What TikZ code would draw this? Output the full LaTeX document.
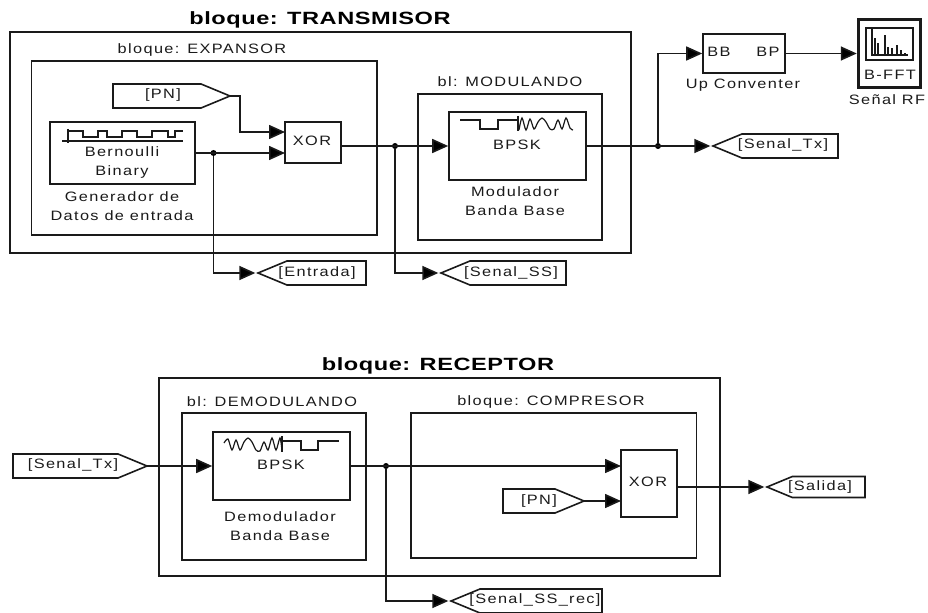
\documentclass[tikz,border=0pt]{standalone}
\usepackage{fontspec}
\setmainfont{Liberation Sans}
\newfontfamily\simfont[FakeStretch=1.2,LetterSpace=10]{Liberation Sans}
\newfontfamily\simbold[FakeStretch=1.33,LetterSpace=3]{Liberation Sans Bold}
\usetikzlibrary{arrows.meta,shapes.symbols,calc}
\definecolor{ink}{HTML}{1A1A1A}
\tikzset{
  frame/.style={draw=ink,line width=1.2pt,fill=none,inner sep=0pt,rectangle},
  wire/.style={draw=ink,line width=1.2pt,-{Triangle[length=12pt,width=10.5pt,fill=black]}},
  wireg/.style={wire,shorten >=2pt},
  icon/.style={draw=ink,line width=.9pt},
  dot/.style={circle,fill=black,inner sep=0pt,minimum size=4.5pt},
  txt/.style={font=\simfont\fontsize{10.2pt}{14.25pt}\selectfont,text=ink,inner sep=0pt,align=center},
  title/.style={font=\simbold\fontsize{13.3pt}{15pt}\selectfont,text=black,inner sep=0pt},
  gotor/.style={draw=ink,line width=1.2pt,inner sep=0pt,outer sep=0pt,signal,signal to=east,signal pointer angle=45,anchor=east},
  gotol/.style={draw=ink,line width=1.2pt,inner sep=0pt,outer sep=0pt,signal,signal to=west,signal pointer angle=45,anchor=west}
}
\begin{document}
\begin{tikzpicture}[x=.75pt,y=-.75pt]
\useasboundingbox (0,0) rectangle (928,613);
% ---------- transmitter frames
\node[frame,minimum width=621*.75pt,minimum height=221*.75pt] (tx) at (320.5,142.5) {};
\node[frame,minimum width=345.5*.75pt,minimum height=174*.75pt] (exp) at (204.25,148) {};
\node[frame,minimum width=184*.75pt,minimum height=146*.75pt] (mod) at (510,167) {};
\node[title] (ttx) at (320,20) {bloque: TRANSMISOR};
\node[txt] (texp) at (202,50) {bloque: EXPANSOR};
\node[txt] (tmod) at (510,82) {bl: MODULANDO};
% blocks
\node[frame,minimum width=145*.75pt,minimum height=62*.75pt] (bern) at (122.5,153) {};
\node[txt] (tbern) at (122,162) {Bernoulli\\Binary};
\node[txt] (tgen) at (122,206) {Generador de\\Datos de entrada};
\node[frame,minimum width=56*.75pt,minimum height=41*.75pt] (xa) at (313,142.5) {};
\node[txt] (txa) at (312,141) {XOR};
\node[frame,minimum width=137*.75pt,minimum height=68*.75pt] (bpa) at (517.5,146) {};
\node[txt] (tbpa) at (517,145) {BPSK};
\node[txt] (tmodu) at (515,201) {Modulador\\Banda Base};
\node[frame,minimum width=82*.75pt,minimum height=39*.75pt] (up) at (744,53.5) {};
\node[txt] (tbb) at (719,52) {BB};
\node[txt] (tbp) at (768,52) {BP};
\node[txt] (tup) at (743,85) {Up Conventer};
\node[draw=ink,line width=2.6pt,rectangle,inner sep=0pt,minimum width=62*.75pt,minimum height=68*.75pt] (fft) at (889.5,53.5) {};
\node[frame,line width=.9pt,minimum width=47*.75pt,minimum height=32*.75pt] (ffti) at (889.5,44) {};
\node[txt] (tfft) at (890,75) {B-FFT};
\node[txt] (trf) at (887,100) {Señal RF};
% gotos
\node[gotor,minimum width=117*.75pt,minimum height=24*.75pt] (pna) at (230,96) {};
\node[txt] (tpna) at (163,95) {[PN]};
\node[gotol,minimum width=108*.75pt,minimum height=24*.75pt] (ent) at (258,273) {};
\node[txt] (tent) at (317,273) {[Entrada]};
\node[gotol,minimum width=125*.75pt,minimum height=24*.75pt] (ss) at (441,273) {};
\node[txt] (tss) at (511,273) {[Senal\_SS]};
\node[gotol,minimum width=125*.75pt,minimum height=24*.75pt] (stx) at (713,146) {};
\node[txt] (tstx) at (783,145) {[Senal\_Tx]};
% ---------- transmitter connectors
\coordinate (xaU) at (285,132);
\coordinate (xaD) at (285,153);
\coordinate (pnb) at (240,96);
\node[dot] (j1) at (213.5,153) {};
\node[dot] (j2) at (395,146) {};
\node[dot] (j3) at (658,146) {};
\draw[wire] (pna.east) -- (pnb) |- (xaU);
\draw[wire] (bern.east) -- (xaD);
\draw[wireg] (j1) |- (ent.west);
\draw[wire] (xa.east |- j2) -- (bpa.west);
\draw[wireg] (j2) |- (ss.west);
\draw[wireg] (bpa.east) -- (stx.west);
\draw[wire] (j3) |- (up.west);
\draw[wire] (up.east) -- (up.east -| fft.west);
% ---------- icons
\draw[icon] (62,141) -- (183,141);
\draw[icon] (68,129) -- (68,143);
\draw[icon] (68,131) -- (83,131) -- (83,137) -- (98,137) -- (98,131) -- (107,131) -- (107,137) -- (122,137) -- (122,131) -- (137,131) -- (137,137) -- (152,137) -- (152,131) -- (168,131) -- (168,137) -- (175,137) -- (175,131) -- (183,131);
\draw[icon] (460,120) -- (480,120) -- (480,129) -- (498,129) -- (498,120) -- (518,120);
\draw[icon] (518,116) -- (518,131);
\draw[icon] plot[smooth] coordinates {(519,130) (522,118) (526,130) (530,119) (534,129) (538,122) (542,118) (546,122) (550,129) (554,129) (558,120) (562,129) (566,118) (570,128) (573,130)};
\draw[icon] plot[smooth] coordinates {(224,443) (228,439) (232,450) (236,440) (240,450) (244,442) (248,438) (252,442) (256,450) (260,451) (264,442) (268,450) (272,438) (276,450) (280,438) (282,451)};
\draw[icon] (282,436) -- (282,452);
\draw[icon] (282,441) -- (301,441) -- (301,450) -- (318,450) -- (318,441) -- (339,441);
% spectrum
\draw[icon] (872,29) -- (872,55) -- (908,55);
\foreach \bx/\by in {875/38,878/43,885/35,888/47,892/48,897/45,901/50,905/53}
  \draw[icon,line width=1pt] (\bx,55) -- (\bx,\by);
% ---------- receiver frames
\node[frame,minimum width=561*.75pt,minimum height=198*.75pt] (rx) at (439.5,477) {};
\node[frame,minimum width=184*.75pt,minimum height=147*.75pt] (dem) at (274,486.5) {};
\node[frame,minimum width=285.5*.75pt,minimum height=145*.75pt] (cmp) at (553.75,485.5) {};
\node[title] (trx) at (438,366) {bloque: RECEPTOR};
\node[txt] (tdem) at (272,402) {bl: DEMODULANDO};
\node[txt] (tcmp) at (551,402) {bloque: COMPRESOR};
\node[frame,minimum width=137*.75pt,minimum height=68*.75pt] (bpb) at (281.5,466) {};
\node[txt] (tbpb) at (281,465) {BPSK};
\node[txt] (tdemo) at (280,526) {Demodulador\\Banda Base};
\node[frame,minimum width=56*.75pt,minimum height=67*.75pt] (xb) at (649,483.5) {};
\node[txt] (txb) at (648,482) {XOR};
\node[gotor,minimum width=134*.75pt,minimum height=24*.75pt] (srx) at (147,466) {};
\node[txt] (tsrx) at (73,465) {[Senal\_Tx]};
\node[gotor,minimum width=81*.75pt,minimum height=24*.75pt] (pnr) at (584,501) {};
\node[txt] (tpnr) at (539,501) {[PN]};
\node[gotol,minimum width=98*.75pt,minimum height=21*.75pt] (sal) at (767,487) {};
\node[txt] (tsal) at (820,486.5) {[Salida]};
\node[gotol,minimum width=151*.75pt,minimum height=24*.75pt] (rec) at (451,601) {};
\node[txt] (trec) at (535,600) {[Senal\_SS\_rec]};
% ---------- receiver connectors
\coordinate (xbU) at (621,466);
\coordinate (xbD) at (621,501);
\node[dot] (j4) at (386,466) {};
\draw[wire] (srx.east) -- (bpb.west);
\draw[wire] (bpb.east) -- (xbU);
\draw[wireg] (j4) |- (rec.west);
\draw[wire] (pnr.east) -- (xbD);
\draw[wireg] (xb.east |- sal.west) -- (sal.west);
\end{tikzpicture}
\end{document}
